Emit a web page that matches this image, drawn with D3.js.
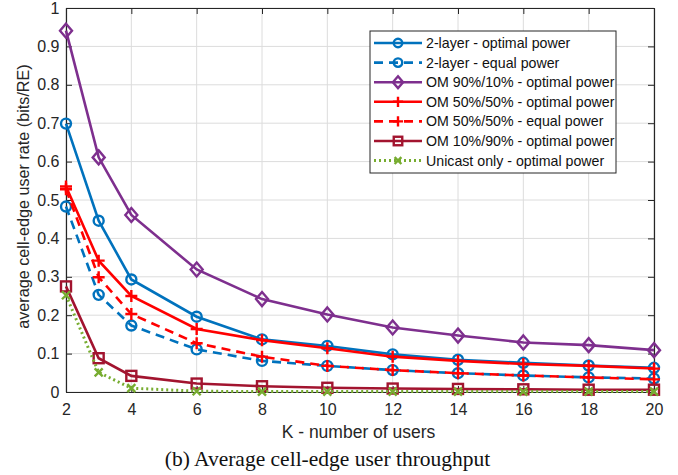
<!DOCTYPE html>
<html><head><meta charset="utf-8">
<script src="https://cdn.jsdelivr.net/npm/d3@7"></script>
<style>body{margin:0;background:#fff}svg{display:block}</style>
</head><body>
<svg id="c" width="678" height="475"></svg>
<script>
const K = [2,3,4,6,8,10,12,14,16,18,20];
const twoLayerOpt = [0.699,0.446,0.293,0.196,0.137,0.120,0.098,0.084,0.076,0.069,0.063];
const twoLayerEq  = [0.483,0.253,0.173,0.111,0.081,0.068,0.057,0.049,0.043,0.038,0.035];
const om9010Opt   = [0.941,0.611,0.461,0.319,0.242,0.202,0.168,0.147,0.129,0.122,0.109];
const om5050Opt   = [0.535,0.342,0.250,0.164,0.135,0.114,0.092,0.081,0.073,0.068,0.061];
const om5050Eq    = [0.528,0.299,0.203,0.127,0.092,0.068,0.057,0.049,0.043,0.038,0.033];
const om1090Opt   = [0.275,0.088,0.042,0.022,0.015,0.011,0.009,0.008,0.007,0.006,0.006];
const unicastOpt  = [0.252,0.051,0.010,0.002,0.001,0.001,0.001,0.001,0.001,0.001,0.001];
const xTicks = [2,4,6,8,10,12,14,16,18,20];
const yTicks = [0,0.1,0.2,0.3,0.4,0.5,0.6,0.7,0.8,0.9,1];
const yTickLabels = ["0","0.1","0.2","0.3","0.4","0.5","0.6","0.7","0.8","0.9","1"];

const series = [
  {name:"2-layer - optimal power", v:twoLayerOpt, color:"#0072BD", dash:null, m:"circle"},
  {name:"2-layer - equal power", v:twoLayerEq, color:"#0072BD", dash:"9,6", m:"circle"},
  {name:"OM 90%/10% - optimal power", v:om9010Opt, color:"#7E2F8E", dash:null, m:"diamond"},
  {name:"OM 50%/50% - optimal power", v:om5050Opt, color:"#FF0000", dash:null, m:"plus"},
  {name:"OM 50%/50% - equal power", v:om5050Eq, color:"#FF0000", dash:"9,6", m:"plus"},
  {name:"OM 10%/90% - optimal power", v:om1090Opt, color:"#A2142F", dash:null, m:"square"},
  {name:"Unicast only - optimal power", v:unicastOpt, color:"#77AC30", dash:"2,3", m:"x"}
];

const svg = d3.select("#c");
const L=66,R=654,T=8,B=392;
const x = d3.scaleLinear().domain([2,20]).range([L,R]);
const y = d3.scaleLinear().domain([0,1]).range([B,T]);
const font = "'Liberation Sans', Arial, sans-serif";

// grid
const g = svg.append("g");
g.selectAll("line.gx").data(xTicks).enter().append("line")
  .attr("x1",d=>x(d)).attr("x2",d=>x(d)).attr("y1",T).attr("y2",B)
  .attr("stroke","#dcdcdc").attr("stroke-width",1);
g.selectAll("line.gy").data(yTicks).enter().append("line")
  .attr("y1",d=>y(d)).attr("y2",d=>y(d)).attr("x1",L).attr("x2",R)
  .attr("stroke","#dcdcdc").attr("stroke-width",1);

// axes
const xAxis = d3.axisBottom(x).tickValues(xTicks).tickSizeInner(-6).tickSizeOuter(0).tickPadding(11.5);
const yAxis = d3.axisLeft(y).tickValues(yTicks).tickFormat((d,i)=>yTickLabels[i]).tickSizeInner(-6).tickSizeOuter(0).tickPadding(6.5);
const ax = svg.append("g").attr("transform",`translate(0,${B})`).call(xAxis);
const ay = svg.append("g").attr("transform",`translate(${L},0)`).call(yAxis);
const axTop = svg.append("g").attr("transform",`translate(0,${T})`).call(d3.axisTop(x).tickValues(xTicks).tickSizeInner(-6).tickSizeOuter(0).tickFormat(""));
const ayR = svg.append("g").attr("transform",`translate(${R},0)`).call(d3.axisRight(y).tickValues(yTicks).tickSizeInner(-6).tickSizeOuter(0).tickFormat(""));
[ax,ay,axTop,ayR].forEach(a=>{
  a.selectAll("path").attr("stroke","#262626").attr("stroke-width",1.2);
  a.selectAll("line").attr("stroke","#262626");
  a.selectAll("text").attr("font-family",font).attr("font-size",16).attr("fill","#262626");
});

svg.append("text").attr("x",358.5).attr("y",438).attr("text-anchor","middle")
  .attr("font-family",font).attr("font-size",17.5).attr("fill","#262626").text("K - number of users");
svg.append("text").attr("transform",`translate(28.5,196.5) rotate(-90)`).attr("text-anchor","middle")
  .attr("font-family",font).attr("font-size",16.2).attr("fill","#262626").text("average cell-edge user rate (bits/RE)");
svg.append("text").attr("x",327.5).attr("y",466).attr("text-anchor","middle")
  .attr("font-family","'Liberation Serif', 'Times New Roman', serif").attr("font-size",21.5).attr("fill","#111").text("(b) Average cell-edge user throughput");

function marker(sel, type, color, size){
  const s=size||1;
  if(type==="circle") sel.append("circle").attr("r",5*s).attr("fill","none").attr("stroke",color).attr("stroke-width",2.4);
  else if(type==="diamond") sel.append("path").attr("d",`M0,${-7*s}L${6*s},0L0,${7*s}L${-6*s},0Z`).attr("fill","none").attr("stroke",color).attr("stroke-width",2.4);
  else if(type==="square") sel.append("rect").attr("x",-5*s).attr("y",-5*s).attr("width",10*s).attr("height",10*s).attr("fill","none").attr("stroke",color).attr("stroke-width",2.4);
  else if(type==="plus") sel.append("path").attr("d",`M${-6*s},0H${6*s}M0,${-6*s}V${6*s}`).attr("stroke",color).attr("stroke-width",2.4);
  else if(type==="x") sel.append("path").attr("d",`M${-4*s},${-4*s}L${4*s},${4*s}M${-4*s},${4*s}L${4*s},${-4*s}`).attr("stroke",color).attr("stroke-width",2.4);
}

const line = d3.line().x((d,i)=>x(K[i])).y(d=>y(d));
const plot = svg.append("g");
series.forEach(s=>{
  plot.append("path").datum(s.v).attr("d",line).attr("fill","none")
    .attr("stroke",s.color).attr("stroke-width",s.m==="x"?3:2.6)
    .attr("stroke-dasharray",s.dash);
  s.v.forEach((v,i)=>{
    const mg = plot.append("g").attr("transform",`translate(${x(K[i])},${y(v)})`);
    marker(mg,s.m,s.color);
  });
});

// legend
const lg = svg.append("g").attr("transform","translate(370,31)");
lg.append("rect").attr("width",246).attr("height",142).attr("fill","#fff").attr("stroke","#262626").attr("stroke-width",1);
series.forEach((s,i)=>{
  const yy = 12 + i*19.6;
  lg.append("line").attr("x1",4).attr("x2",52).attr("y1",yy).attr("y2",yy)
    .attr("stroke",s.color).attr("stroke-width",s.m==="x"?3:2.6).attr("stroke-dasharray",s.dash);
  const mg = lg.append("g").attr("transform",`translate(28,${yy})`);
  marker(mg,s.m,s.color,0.85);
  lg.append("text").attr("x",56).attr("y",yy+5).attr("font-family",font).attr("font-size",14.2)
    .attr("fill","#111").text(s.name);
});
</script>
</body></html>
